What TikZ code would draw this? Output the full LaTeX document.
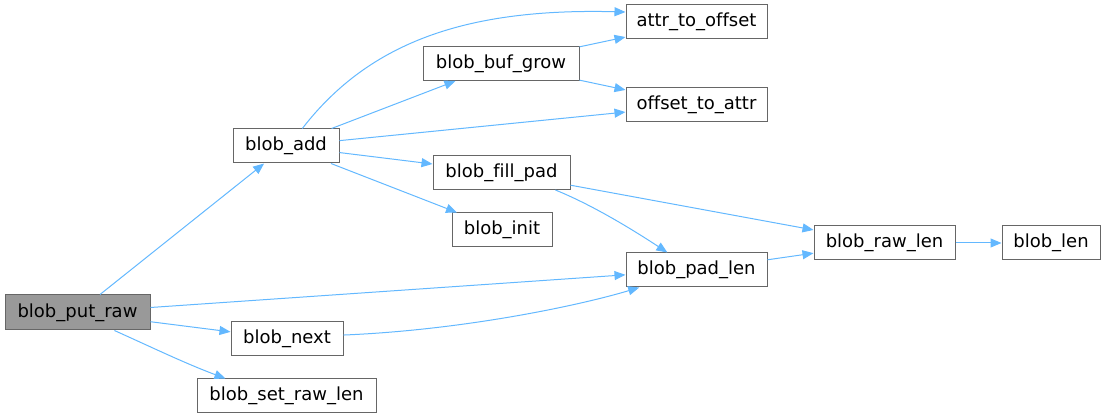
\documentclass[tikz,border=0pt]{standalone}
\usepackage{fontspec}
\setmainfont{DejaVu Sans}[Ligatures=NoCommon]
\usetikzlibrary{arrows.meta}
\definecolor{edgeblue}{HTML}{63B8FF}
\definecolor{nodeborder}{HTML}{666666}
\definecolor{rootfill}{HTML}{999999}

\begin{document}
\begin{tikzpicture}[
    x=1pt, y=1pt,
    fn/.style={draw=nodeborder, fill=white, line width=1pt,
               minimum width=#1pt, minimum height=34pt, inner sep=0pt,
               font=\fontsize{18}{22}\selectfont},
    root/.style={fn=#1, fill=rootfill, minimum height=35pt},
    arr/.style={-{Triangle[length=11pt,width=9pt]}, draw=edgeblue, line width=1pt}
]
\useasboundingbox (0,0) rectangle (1111,419);

\node[root=145] (put) at (77.5,106.5) {blob\_put\_raw};
\node[fn=106] (add) at (286,273) {blob\_add};
\node[fn=112] (next) at (287,80) {blob\_next};
\node[fn=179] (setraw) at (286.5,23) {blob\_set\_raw\_len};
\node[fn=156] (grow) at (501,355.5) {blob\_buf\_grow};
\node[fn=137] (fill) at (501.5,246.5) {blob\_fill\_pad};
\node[fn=100] (init) at (502,189) {blob\_init};
\node[fn=141] (a2o) at (696.5,397) {attr\_to\_offset};
\node[fn=141] (o2a) at (696.5,314) {offset\_to\_attr};
\node[fn=141] (padlen) at (696.5,149) {blob\_pad\_len};
\node[fn=141] (rawlen) at (884.5,176) {blob\_raw\_len};
\node[fn=98] (len) at (1051,176) {blob\_len};

\draw[arr] (put) -- (add);
\draw[arr] (put) -- (padlen);
\draw[arr] (put) -- (next);
\draw[arr] (put.-26) .. controls +(40,-18) and +(-40,15) .. (setraw.164);
\draw[arr] (add.47) .. controls +(68,88) and +(-156,4) .. (a2o.172);
\draw[arr] (add) -- (grow);
\draw[arr] (add) -- (o2a);
\draw[arr] (add) -- (fill);
\draw[arr] (add) -- (init);
\draw[arr] (grow) -- (a2o);
\draw[arr] (grow) -- (o2a);
\draw[arr] (fill) -- (rawlen);
\draw[arr] (fill.-18) .. controls +(37,-15) and +(-35,23) .. (padlen.149);
\draw[arr] (next.4) .. controls +(120,5) and +(-60,-18) .. (padlen.-163);
\draw[arr] (padlen) -- (rawlen);
\draw[arr] (rawlen) -- (len);
\end{tikzpicture}
\end{document}
